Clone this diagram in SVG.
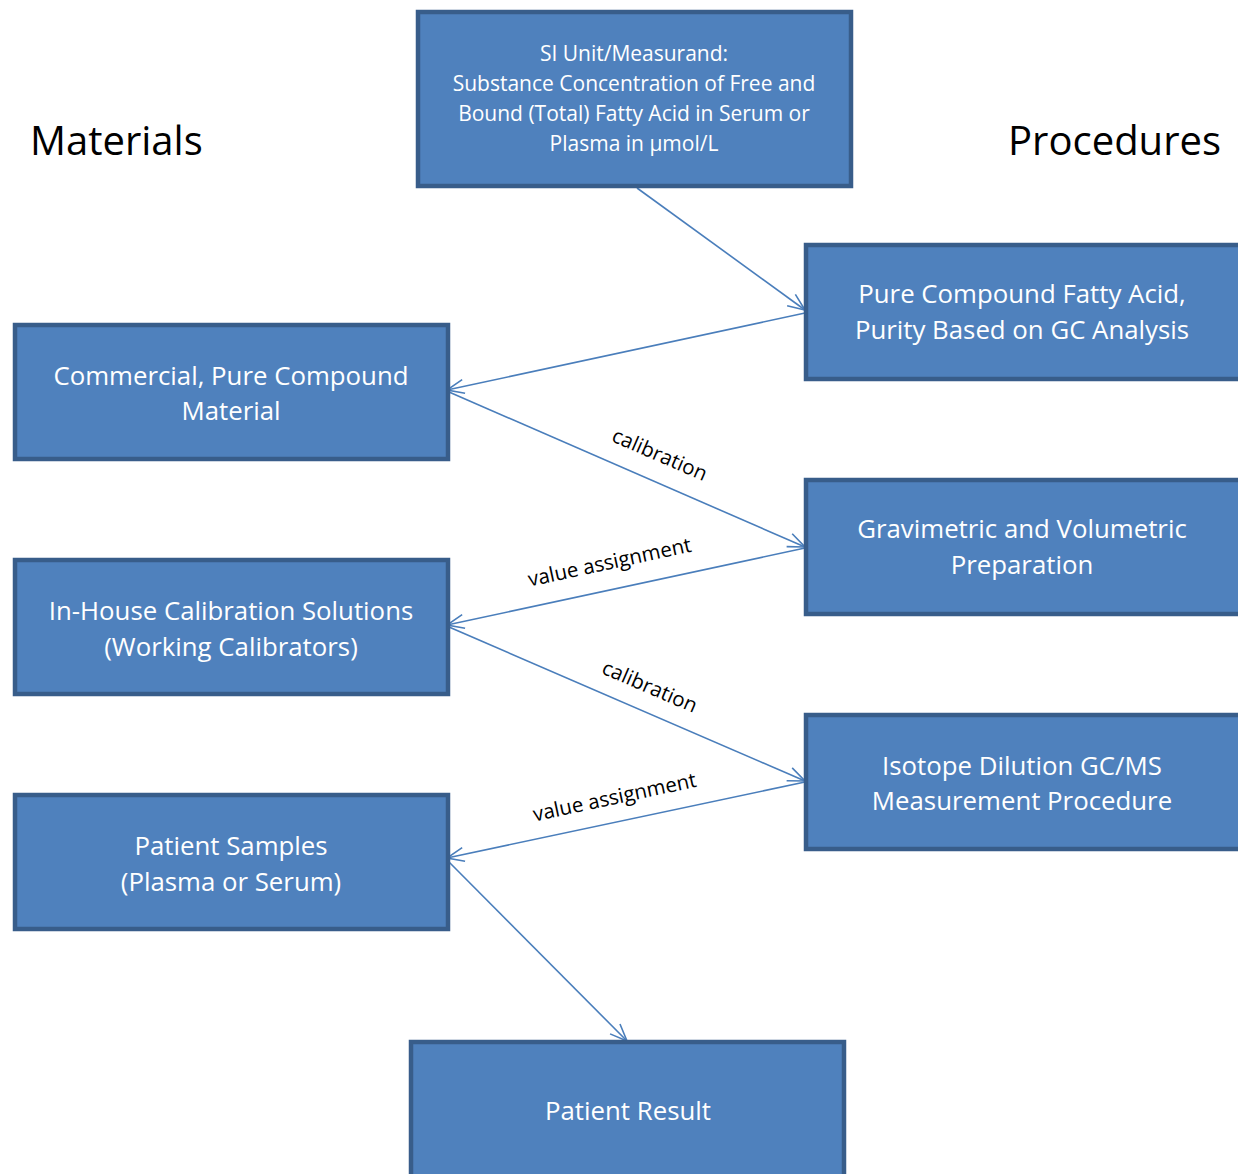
<svg xmlns="http://www.w3.org/2000/svg" width="1238" height="1174" viewBox="0 0 1238 1174">
<defs>
<style>
.box{fill:#4F81BD;stroke:#385D8A;stroke-width:4.5}
.bt{font-family:"Open Sans","Noto Sans",sans-serif;font-size:25.8px;fill:#FFFFFF;text-anchor:middle}
.st{font-family:"Open Sans","Noto Sans",sans-serif;font-size:21px;fill:#FFFFFF;text-anchor:middle}
.hd{font-family:"Open Sans","Noto Sans",sans-serif;font-size:40px;fill:#000000}
.lb{font-family:"Open Sans","Noto Sans",sans-serif;font-size:20.5px;fill:#000000;text-anchor:middle}
.ln{stroke:#4A7EBB;stroke-width:1.6;fill:none;marker-end:url(#ah)}
</style>
<marker id="ah" viewBox="0 0 20 20" refX="19" refY="10" markerWidth="20" markerHeight="20" markerUnits="userSpaceOnUse" orient="auto">
<path d="M2,3 L19,10 L2,17" fill="none" stroke="#4A7EBB" stroke-width="1.6"/>
</marker>
</defs>
<rect width="1238" height="1174" fill="#FFFFFF"/>
<g id="connectors">
<line class="ln" x1="637" y1="188" x2="805" y2="310"/>
<line class="ln" x1="805" y1="313" x2="447" y2="390"/>
<line class="ln" x1="449" y1="392" x2="805" y2="547"/>
<line class="ln" x1="805" y1="548" x2="447" y2="625"/>
<line class="ln" x1="449" y1="627" x2="805" y2="781"/>
<line class="ln" x1="805" y1="782" x2="447" y2="858"/>
<line class="ln" x1="449" y1="862" x2="627" y2="1041"/>
<text class="lb" transform="translate(657,461) rotate(23.5)">calibration</text>
<text class="lb" transform="translate(611,569) rotate(-12.2)">value assignment</text>
<text class="lb" transform="translate(647,693) rotate(23.4)">calibration</text>
<text class="lb" transform="translate(616,804) rotate(-12.1)">value assignment</text>
</g>
<g id="headings">
<text class="hd" x="30" y="155">Materials</text>
<text class="hd" x="1221" y="155" text-anchor="end">Procedures</text>
</g>
<g id="si-unit">
<rect class="box" x="418" y="12" width="433" height="174"/>
<text class="st" x="634" y="61">SI Unit/Measurand:</text>
<text class="st" x="634" y="91">Substance Concentration  of Free and</text>
<text class="st" x="634" y="121">Bound (Total)  Fatty  Acid in Serum or</text>
<text class="st" x="634" y="151">Plasma in  μmol/L</text>
</g>
<g id="pure-compound-fatty-acid">
<rect class="box" x="806" y="245" width="440" height="134"/>
<text class="bt" x="1022" y="303">Pure Compound  Fatty Acid,</text>
<text class="bt" x="1022" y="339">Purity Based on GC Analysis</text>
</g>
<g id="commercial-material">
<rect class="box" x="15" y="325" width="433" height="134"/>
<text class="bt" x="231" y="385">Commercial, Pure Compound</text>
<text class="bt" x="231" y="420">Material</text>
</g>
<g id="gravimetric">
<rect class="box" x="806" y="480" width="440" height="134"/>
<text class="bt" x="1022" y="538">Gravimetric and Volumetric</text>
<text class="bt" x="1022" y="574">Preparation</text>
</g>
<g id="in-house-calibration">
<rect class="box" x="15" y="560" width="433" height="134"/>
<text class="bt" x="231" y="620">In-House Calibration Solutions</text>
<text class="bt" x="231" y="656">(Working Calibrators)</text>
</g>
<g id="isotope-dilution">
<rect class="box" x="806" y="715" width="440" height="134"/>
<text class="bt" x="1022" y="775">Isotope  Dilution GC/MS</text>
<text class="bt" x="1022" y="810">Measurement Procedure</text>
</g>
<g id="patient-samples">
<rect class="box" x="15" y="795" width="433" height="134"/>
<text class="bt" x="231" y="855">Patient Samples</text>
<text class="bt" x="231" y="891">(Plasma or Serum)</text>
</g>
<g id="patient-result">
<rect class="box" x="411" y="1042" width="433" height="140"/>
<text class="bt" x="628" y="1120">Patient Result</text>
</g>
</svg>
